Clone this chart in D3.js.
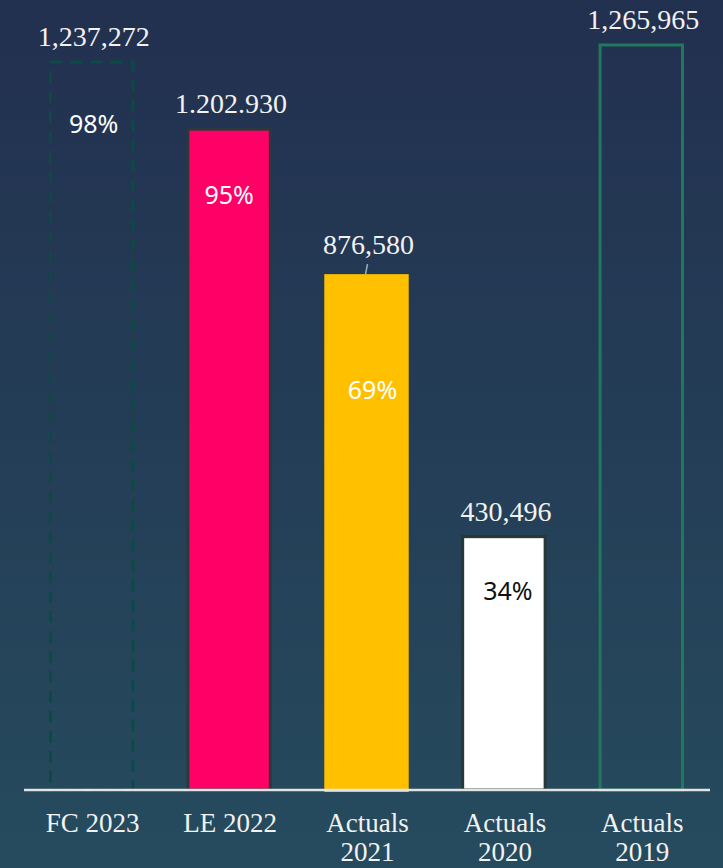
<!DOCTYPE html>
<html>
<head>
<meta charset="utf-8">
<script src="https://cdn.jsdelivr.net/npm/d3@7"></script>
<style>
html, body { margin: 0; padding: 0; }
body { width: 723px; height: 868px; overflow: hidden; }
</style>
</head>
<body>
<div id="chart"></div>
<script>
// categories, one line or two per label
const categories = ['FC 2023', 'LE 2022', 'Actuals 2021', 'Actuals 2020', 'Actuals 2019'];
const catLines = [['FC 2023'], ['LE 2022'], ['Actuals', '2021'], ['Actuals', '2020'], ['Actuals', '2019']];
// bar heights as drawn in the picture
const barValues = [1237272, 1123000, 876580, 430496, 1265965];
// value labels as printed
const valueLabels = ['1,237,272', '1.202.930', '876,580', '430,496', '1,265,965'];
const pctLabels = ['98%', '95%', '69%', '34%', ''];

const W = 723, H = 868;
const marg = { top: 45, bot: 78, left: 23, right: 13 };
const base = H - marg.bot;

const styles = [
	{ fill: 'none', stroke: '#0c4b45', dash: '12,8', txt: '#ffffff' },
	{ fill: '#ff0066', stroke: '#2a3a3c', dash: null, txt: '#ffffff' },
	{ fill: '#ffc000', stroke: 'none', dash: null, txt: '#ffffff' },
	{ fill: '#ffffff', stroke: '#263838', dash: null, txt: '#111111' },
	{ fill: 'none', stroke: '#21795c', dash: null, txt: '#ffffff' }
];
// where the percent sits below the bar top, and a small x nudge
const pctDrop = [71, 75, 125, 63, 0];
const pctNudge = [2, 0, 6, 4, 0];

const svg = d3.select('#chart').append('svg').attr('width', W).attr('height', H);

const grad = svg.append('defs').append('linearGradient')
	.attr('id', 'bg').attr('x1', 0).attr('y1', 0).attr('x2', 0).attr('y2', 1);
grad.append('stop').attr('offset', '0%').attr('stop-color', '#22304f');
grad.append('stop').attr('offset', '100%').attr('stop-color', '#264b5e');
svg.append('rect').attr('width', W).attr('height', H).attr('fill', 'url(#bg)');

const x = d3.scaleBand().domain(categories).range([marg.left, W - marg.right]).paddingInner(0.4).paddingOuter(0.2);
const y = d3.scaleLinear().domain([0, d3.max(barValues)]).range([base, marg.top]);

const rows = categories.map((c, i) => ({ c: c, v: barValues[i], lab: valueLabels[i], pct: pctLabels[i], s: styles[i], i: i }));

const bars = svg.append('g').selectAll('g').data(rows).enter().append('g');

bars.append('rect')
	.attr('x', d => x(d.c) + (d.s.stroke === 'none' ? -1 : 0))
	.attr('y', d => y(d.v))
	.attr('width', d => x.bandwidth() + (d.s.stroke === 'none' ? 2 : 0))
	.attr('height', d => base - y(d.v) + (d.s.stroke === 'none' ? 2 : 0))
	.attr('fill', d => d.s.fill)
	.attr('stroke', d => d.s.stroke)
	.attr('stroke-width', 3)
	.attr('stroke-dasharray', d => d.s.dash);

bars.append('text')
	.attr('x', d => x(d.c) + x.bandwidth() / 2 + 2)
	.attr('y', d => y(d.v) - (d.i === 2 ? 20 : 16))
	.attr('text-anchor', 'middle')
	.attr('fill', '#f2f2f2')
	.style('font-family', '"Liberation Serif", serif')
	.style('font-size', '28px')
	.text(d => d.lab);

// leader line on the 2021 label
bars.filter(d => d.i === 2).append('line')
	.attr('x1', d => x(d.c) + x.bandwidth() / 2 + 1)
	.attr('x2', d => x(d.c) + x.bandwidth() / 2 - 1)
	.attr('y1', d => y(d.v) - 10)
	.attr('y2', d => y(d.v))
	.attr('stroke', '#9fb3bf')
	.attr('stroke-width', 1.5);

bars.append('text')
	.attr('x', d => x(d.c) + x.bandwidth() / 2 + pctNudge[d.i])
	.attr('y', d => y(d.v) + pctDrop[d.i])
	.attr('text-anchor', 'middle')
	.attr('fill', d => d.s.txt)
	.style('font-family', '"Noto Sans", sans-serif')
	.style('font-size', '25px')
	.text(d => d.pct);

svg.append('line')
	.attr('x1', 24).attr('x2', 710)
	.attr('y1', base).attr('y2', base)
	.attr('stroke', '#e2e4e4')
	.attr('stroke-width', 2.5);

const cat = svg.append('g').selectAll('text').data(catLines).enter().append('text')
	.attr('x', (d, i) => x(categories[i]) + x.bandwidth() / 2 + 1)
	.attr('y', base + 42)
	.attr('text-anchor', 'middle')
	.attr('fill', '#f2f2f2')
	.style('font-family', '"Liberation Serif", serif')
	.style('font-size', '27px');

cat.selectAll('tspan').data(d => d).enter().append('tspan')
	.attr('x', function() { return d3.select(this.parentNode).attr('x'); })
	.attr('dy', (d, j) => j === 0 ? 0 : 29)
	.text(d => d);
</script>
</body>
</html>
